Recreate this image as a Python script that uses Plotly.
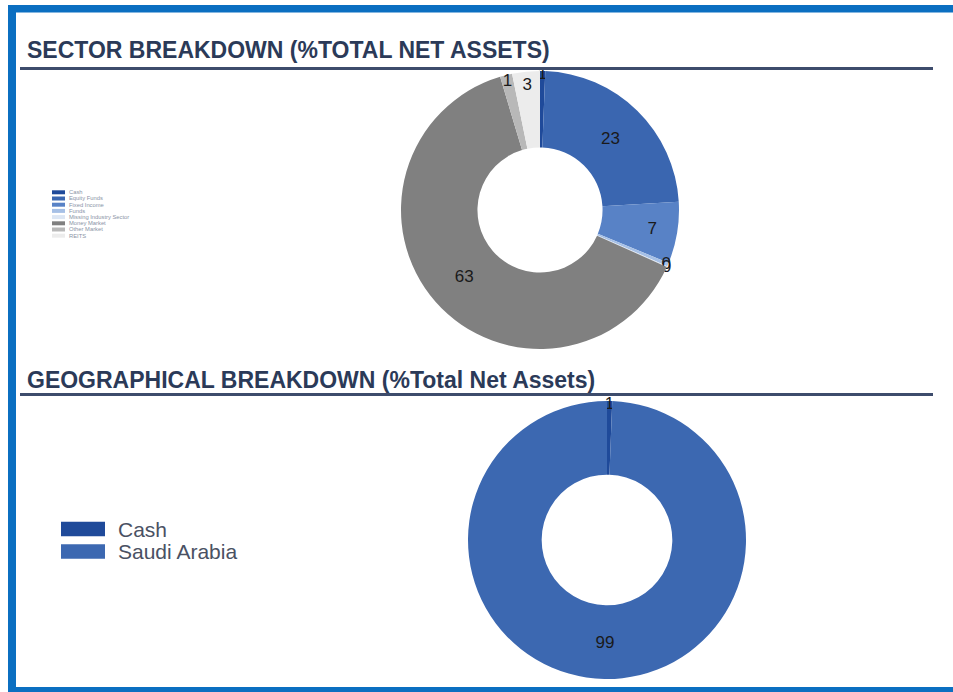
import plotly.graph_objects as go

# ---------------- data ----------------
sector_labels = ["Cash", "Equity Funds", "Fixed Income", "Funds",
                 "Missing Industry Sector", "Money Market", "Other Market", "REITS"]
sector_values = [0.6, 23.3, 7.1, 0.4, 0.1, 63.2, 1.4, 3.2]
sector_colors = ["#1f4a9a", "#3a66b0", "#5882c6", "#a6c0e6",
                 "#dce6f4", "#808080", "#b8b8b8", "#ececec"]

geo_labels = ["Cash", "Saudi Arabia"]
geo_values = [0.6, 99.4]
geo_colors = ["#1f4a9a", "#3c68b1"]

sector_title = "SECTOR BREAKDOWN (%TOTAL NET ASSETS)"
geo_title = "GEOGRAPHICAL BREAKDOWN (%Total Net Assets)"

# ---------------- layout helpers ----------------
W, H = 953, 692
FONT = "Liberation Sans, Arial, sans-serif"


def fx(x):
    return x / W


def fy(y):
    return 1 - y / H


def domain(cx, cy, r):
    return dict(x=[fx(cx - r), fx(cx + r)], y=[fy(cy + r), fy(cy - r)])


fig = go.Figure()

fig.add_trace(go.Pie(
    labels=sector_labels, values=sector_values,
    marker=dict(colors=sector_colors, line=dict(width=0)),
    hole=0.45, sort=False, direction="clockwise", rotation=0,
    texttemplate="%{value:.0f}", textposition="inside",
    insidetextorientation="horizontal",
    textfont=dict(size=17, color="#1a1a1a", family=FONT),
    domain=domain(540, 210, 139), showlegend=False,
    hoverinfo="label+value",
))

fig.add_trace(go.Pie(
    labels=geo_labels, values=geo_values,
    marker=dict(colors=geo_colors, line=dict(width=0)),
    hole=0.47, sort=False, direction="clockwise", rotation=0,
    texttemplate="%{value:.0f}", textposition="inside",
    insidetextorientation="horizontal",
    textfont=dict(size=17, color="#1a1a1a", family=FONT),
    domain=domain(607, 540, 139), showlegend=False,
    hoverinfo="label+value",
))

shapes = []
annotations = []
BLUE = "#0b6fc1"

# frame
shapes.append(dict(type="rect", xref="paper", yref="paper",
                   x0=fx(8), x1=fx(953), y0=fy(12.5), y1=fy(5),
                   fillcolor=BLUE, line=dict(width=0), layer="above"))
shapes.append(dict(type="rect", xref="paper", yref="paper",
                   x0=fx(8), x1=fx(16), y0=fy(692), y1=fy(5),
                   fillcolor=BLUE, line=dict(width=0), layer="above"))
shapes.append(dict(type="rect", xref="paper", yref="paper",
                   x0=fx(8), x1=fx(953), y0=fy(692), y1=fy(687),
                   fillcolor=BLUE, line=dict(width=0), layer="above"))

# section titles and rules
for title, ty, ly in [(sector_title, 50, 68.5), (geo_title, 380, 394.5)]:
    annotations.append(dict(text="<b>" + title + "</b>", xref="paper", yref="paper",
                            x=fx(25), y=fy(ty), xanchor="left", yanchor="middle",
                            showarrow=False,
                            font=dict(size=23, color="#2b3a58", family=FONT)))
    shapes.append(dict(type="line", xref="paper", yref="paper",
                       x0=fx(20), x1=fx(933), y0=fy(ly), y1=fy(ly),
                       line=dict(color="#3d4c6c", width=3)))

# small sector legend
for i, (lab, col) in enumerate(zip(sector_labels, sector_colors)):
    yc = 192.3 + i * 6.2
    shapes.append(dict(type="rect", xref="paper", yref="paper",
                       x0=fx(52), x1=fx(65), y0=fy(yc + 2), y1=fy(yc - 2),
                       fillcolor=col, line=dict(width=0)))
    annotations.append(dict(text=lab, xref="paper", yref="paper",
                            x=fx(67), y=fy(yc), xanchor="left", yanchor="middle",
                            showarrow=False,
                            font=dict(size=5.8, color="#8a93a6", family=FONT)))

# geography legend
for i, (lab, col) in enumerate(zip(geo_labels, geo_colors)):
    yc = 529 + i * 22.5
    shapes.append(dict(type="rect", xref="paper", yref="paper",
                       x0=fx(61), x1=fx(105), y0=fy(yc + 7.2), y1=fy(yc - 7.2),
                       fillcolor=col, line=dict(width=0)))
    annotations.append(dict(text=lab, xref="paper", yref="paper",
                            x=fx(116), y=fy(yc), xanchor="left", yanchor="middle",
                            showarrow=False,
                            font=dict(size=21, color="#4a5163", family=FONT)))

fig.update_layout(
    width=W, height=H,
    margin=dict(l=0, r=0, t=0, b=0),
    paper_bgcolor="white", plot_bgcolor="white",
    font=dict(family=FONT),
    uniformtext=dict(minsize=17, mode="show"),
    shapes=shapes, annotations=annotations,
)

fig.write_html(
    "out.html",
    config={"displayModeBar": False},
    post_script="document.body.style.margin='0px';"
                "document.body.style.overflow='hidden';",
)
